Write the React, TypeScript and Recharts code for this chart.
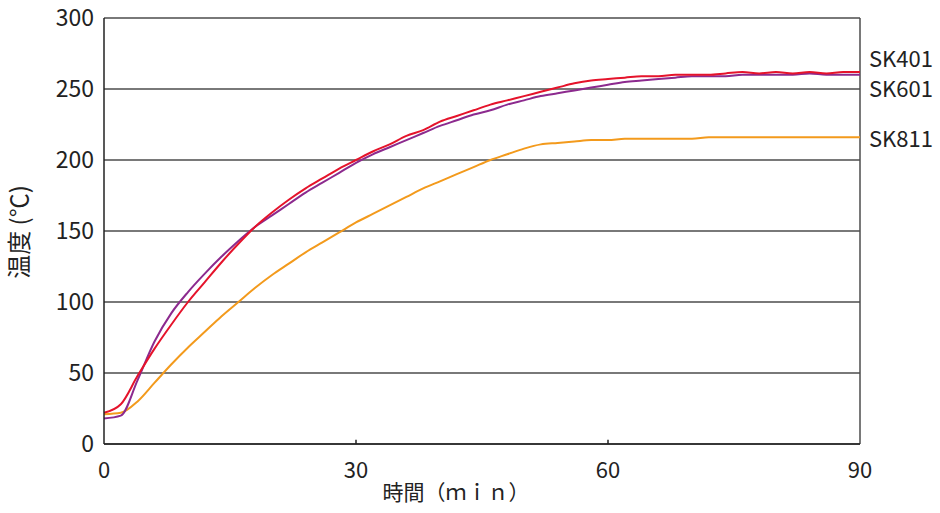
import { CartesianGrid, Label, LabelList, Line, LineChart, ReferenceLine, XAxis, YAxis } from 'recharts'

const minutes = [
  0, 2, 4, 6, 8, 10, 12, 14, 16, 18, 20, 22, 24, 26, 28, 30, 32, 34, 36, 38, 40, 42, 44,
  46, 48, 50, 52, 54, 56, 58, 60, 62, 64, 66, 68, 70, 72, 74, 76, 78, 80, 82, 84, 86, 88, 90,
]

const sk401 = [
  22, 28, 48, 67, 84, 100, 114, 128, 141, 153, 163, 172, 180, 187, 194, 200, 206, 211, 217, 221, 227, 231,
  235, 239, 242, 245, 248, 251, 254, 256, 257, 258, 259, 259, 260, 260, 260, 261, 262, 261, 262, 261, 262,
  261, 262, 262,
]

const sk601 = [
  18, 20, 45, 72, 92, 107, 120, 132, 143, 153, 161, 169, 177, 184, 191, 198, 204, 209, 214, 219, 224, 228,
  232, 235, 239, 242, 245, 247, 249, 251, 253, 255, 256, 257, 258, 259, 259, 259, 260, 260, 260, 260, 261,
  260, 260, 260,
]

const sk811 = [
  21, 22, 30, 43, 56, 68, 79, 90, 100, 110, 119, 127, 135, 142, 149, 156, 162, 168, 174, 180, 185, 190, 195,
  200, 204, 208, 211, 212, 213, 214, 214, 215, 215, 215, 215, 215, 216, 216, 216, 216, 216, 216, 216, 216,
  216, 216,
]

const yTicks = [0, 50, 100, 150, 200, 250, 300]
const xTicks = [0, 30, 60, 90]
const innerTicks = [30, 60]

const data = minutes.map((t, i) => ({ t, sk401: sk401[i], sk601: sk601[i], sk811: sk811[i] }))

const FONT = '"Noto Sans CJK JP", "Noto Sans", sans-serif'
const GRID = '#4d4d4d'

const endLabel = (name: string, dy: number, last: number) => (props: any) => {
  if (props.index !== last) return null
  return (
    <text x={props.x + 9} y={props.y + dy} fontSize={22} fontFamily={FONT} fill="#222" dominantBaseline="central">
      {name}
    </text>
  )
}

export default function App() {
  const last = minutes.length - 1
  return (
    <div style={{ position: 'absolute', left: 0, top: 0, background: '#fff' }}>
      <LineChart width={940} height={513} data={data} margin={{ top: 18, right: 80, left: 0, bottom: 0 }}>
        <CartesianGrid vertical={false} stroke={GRID} strokeWidth={1.5} />
        <XAxis
          dataKey="t"
          type="number"
          domain={[0, 90]}
          ticks={xTicks}
          height={69}
          tickSize={0}
          tickMargin={18}
          axisLine={{ stroke: '#222', strokeWidth: 1.5 }}
          tickLine={false}
          tick={{ fontSize: 22, fill: '#222', fontFamily: FONT }}
        >
          <Label
            content={({ viewBox }: any) => (
              <text x={viewBox.x + 352} y={viewBox.y + 56} fontSize={21} fill="#222" fontFamily={FONT} textAnchor="middle">
                時間（ｍｉｎ）
              </text>
            )}
          />
        </XAxis>
        <YAxis
          type="number"
          domain={[0, 300]}
          ticks={yTicks}
          width={104}
          tickSize={0}
          tickMargin={10}
          axisLine={{ stroke: '#222', strokeWidth: 1.5 }}
          tickLine={false}
          tick={{ fontSize: 23, fill: '#222', fontFamily: FONT }}
        >
          <Label
            content={({ viewBox }: any) => (
              <text
                x={17}
                y={viewBox.y + viewBox.height / 2 + 1}
                fontSize={24}
                fill="#222"
                fontFamily={FONT}
                textAnchor="middle"
                dominantBaseline="central"
                transform={`rotate(-90 17 ${viewBox.y + viewBox.height / 2 + 1})`}
              >
                温度 (℃)
              </text>
            )}
          />
        </YAxis>
        <ReferenceLine x={90} stroke={GRID} strokeWidth={1.5} />
        {innerTicks.map((t) => (
          <ReferenceLine key={t} segment={[{ x: t, y: 0 }, { x: t, y: 3 }]} stroke="#222" strokeWidth={1.5} />
        ))}
        <Line dataKey="sk811" stroke="#f39a1c" strokeWidth={2} dot={false} isAnimationActive={false} type="monotone">
          <LabelList dataKey="sk811" content={endLabel('SK811', 0, last)} />
        </Line>
        <Line dataKey="sk601" stroke="#8c2a8e" strokeWidth={2} dot={false} isAnimationActive={false} type="monotone">
          <LabelList dataKey="sk601" content={endLabel('SK601', 12, last)} />
        </Line>
        <Line dataKey="sk401" stroke="#e5132b" strokeWidth={2} dot={false} isAnimationActive={false} type="monotone">
          <LabelList dataKey="sk401" content={endLabel('SK401', -15, last)} />
        </Line>
      </LineChart>
    </div>
  )
}
